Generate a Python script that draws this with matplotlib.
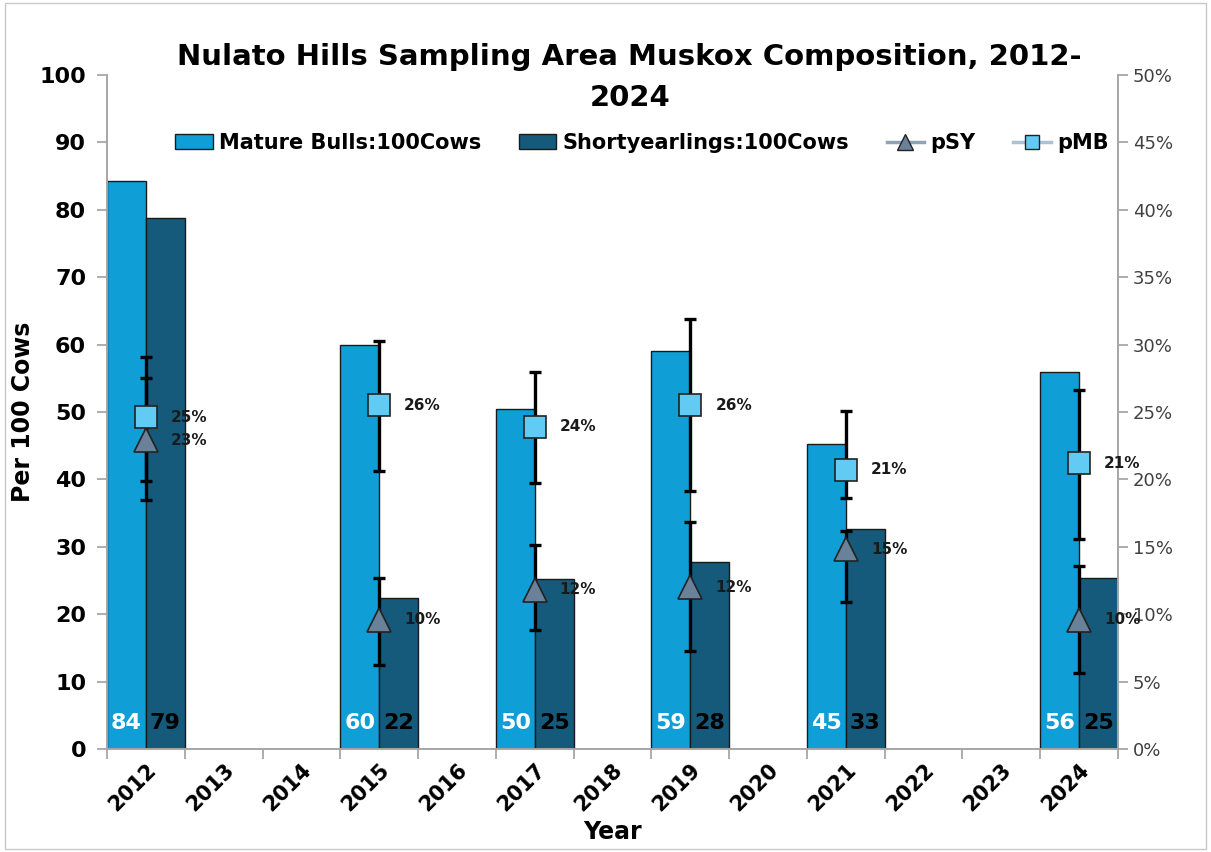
"""
Nulato Hills muskox composition chart
"""

import matplotlib.pyplot as plt
import numpy as np
from matplotlib.lines import Line2D
from matplotlib.patches import Rectangle

plt.rcParams['font.family'] = ['DejaVu Sans']

years = [str(y) for y in range(2012, 2025)]
survey_years = ['2012', '2015', '2017', '2019', '2021', '2024']
bulls = [84.2, 59.9, 50.5, 59.1, 45.3, 55.9]
shorties = [78.8, 22.4, 25.2, 27.8, 32.6, 25.4]

# proportions in percent with confidence limits
pmb = [24.6, 25.5, 23.9, 25.5, 20.7, 21.2]
pmb_lo = [19.9, 20.6, 19.7, 19.1, 18.6, 15.6]
pmb_hi = [29.1, 30.3, 28.0, 31.9, 25.1, 26.6]
psy = [22.9, 9.6, 11.8, 12.0, 14.8, 9.6]
psy_lo = [18.5, 6.2, 8.8, 7.3, 10.9, 5.6]
psy_hi = [27.5, 12.7, 15.1, 16.8, 16.2, 13.6]

c_mb = '#0F9ED5'
c_sy = '#155A7A'
c_psy = '#6A8299'
c_pmb = '#61CBF3'

fig = plt.figure(figsize=(12.11, 8.52), dpi=100)
ax = fig.add_axes([0.0884, 0.121, 0.8348, 0.791])
ax2 = ax.twinx()

x = np.array([years.index(y) for y in survey_years])

ax.bar(x - 0.25, bulls, width=0.5, color=c_mb, edgecolor='#1a1a1a', linewidth=1, zorder=2)
ax.bar(x + 0.25, shorties, width=0.5, color=c_sy, edgecolor='#1a1a1a', linewidth=1, zorder=2)

for xi, b, s in zip(x, bulls, shorties):
    ax.text(xi - 0.25, 3.9, f'{b:.0f}', color='white', ha='center', va='center',
            fontsize=16, fontweight='bold')
    ax.text(xi + 0.25, 3.9, f'{s:.0f}', color='black', ha='center', va='center',
            fontsize=16, fontweight='bold')

pmb_a = np.array(pmb)
psy_a = np.array(psy)
ax2.errorbar(x, pmb_a, yerr=[pmb_a - np.array(pmb_lo), np.array(pmb_hi) - pmb_a],
             fmt='none', ecolor='black', elinewidth=2.4, capsize=4, capthick=2.4, zorder=3)
ax2.errorbar(x, psy_a, yerr=[psy_a - np.array(psy_lo), np.array(psy_hi) - psy_a],
             fmt='none', ecolor='black', elinewidth=2.4, capsize=4, capthick=2.4, zorder=3)
ax2.plot(x, psy_a, linestyle='none', marker='^', markersize=17, markerfacecolor=c_psy,
         markeredgecolor='#222222', markeredgewidth=1.2, zorder=4)
ax2.plot(x, pmb_a, linestyle='none', marker='s', markersize=16, markerfacecolor=c_pmb,
         markeredgecolor='#222222', markeredgewidth=1.2, zorder=5)

for xi, v in zip(x, pmb):
    ax2.annotate(f'{v:.0f}%', (xi, v), xytext=(18, 0), textcoords='offset points',
                 ha='left', va='center', fontsize=11, fontweight='bold', color='#1a1a1a', zorder=6)
for xi, v in zip(x, psy):
    ax2.annotate(f'{v:.0f}%', (xi, v), xytext=(18, 0), textcoords='offset points',
                 ha='left', va='center', fontsize=11, fontweight='bold', color='#1a1a1a', zorder=6)

ax.set_xlim(-0.5, len(years) - 0.5)
ax.set_ylim(0, 100)
ax2.set_ylim(0, 50)
ax.set_yticks(range(0, 101, 10))
ax.set_yticklabels([str(v) for v in range(0, 101, 10)], fontsize=16, fontweight='bold')
ax2.set_yticks(range(0, 51, 5))
ax2.set_yticklabels([f'{v}%' for v in range(0, 51, 5)], fontsize=13, color='#404040')

ax.set_xticks(range(len(years)))
ax.set_xticklabels(years, rotation=45, ha='right', rotation_mode='anchor',
                   fontsize=15, fontweight='bold')
ax.set_xticks(np.arange(-0.5, len(years)), minor=True)
ax.tick_params(axis='x', which='major', length=0, pad=8)
ax.tick_params(axis='x', which='minor', length=7, color='#a0a0a0', width=1.2)
ax.tick_params(axis='y', length=7, color='#a0a0a0', width=1.2, pad=8)
ax2.tick_params(axis='y', length=7, color='#a0a0a0', width=1.2)

for a in (ax, ax2):
    a.spines['top'].set_visible(False)
    for s in ('left', 'right', 'bottom'):
        a.spines[s].set_color('#a6a6a6')
        a.spines[s].set_linewidth(1.2)

ax.set_ylabel('Per 100 Cows', fontsize=17, fontweight='bold')
ax.yaxis.set_label_coords(-0.071, 0.5)
ax.set_xlabel('Year', fontsize=17, fontweight='bold')
ax.xaxis.set_label_coords(0.5, -0.105)

fig.text(0.52, 0.909, 'Nulato Hills Sampling Area Muskox Composition, 2012-\n2024',
         ha='center', va='center', fontsize=21, fontweight='bold', linespacing=1.55)

handles = [
    Rectangle((0, 0), 1, 1, facecolor=c_mb, edgecolor='#1a1a1a'),
    Rectangle((0, 0), 1, 1, facecolor=c_sy, edgecolor='#1a1a1a'),
    Line2D([], [], color='#8ea3b5', linewidth=2.5, marker='^', markersize=11,
           markerfacecolor=c_psy, markeredgecolor='#222222'),
    Line2D([], [], color='#a9c3d3', linewidth=2.5, marker='s', markersize=10,
           markerfacecolor=c_pmb, markeredgecolor='#222222'),
]
labels = ['Mature Bulls:100Cows', 'Shortyearlings:100Cows', 'pSY', 'pMB']
leg = ax2.legend(handles, labels, loc='center', bbox_to_anchor=(0.529, 0.899), ncol=4,
                 frameon=False, prop={'weight': 'bold', 'size': 15}, handlelength=1.8,
                 handletextpad=0.3, columnspacing=1.8)

fig.patches.append(Rectangle((0.004, 0.004), 0.992, 0.992, transform=fig.transFigure,
                             fill=False, edgecolor='#c8c8c8', linewidth=1))

fig.savefig('out.png', dpi=100)
